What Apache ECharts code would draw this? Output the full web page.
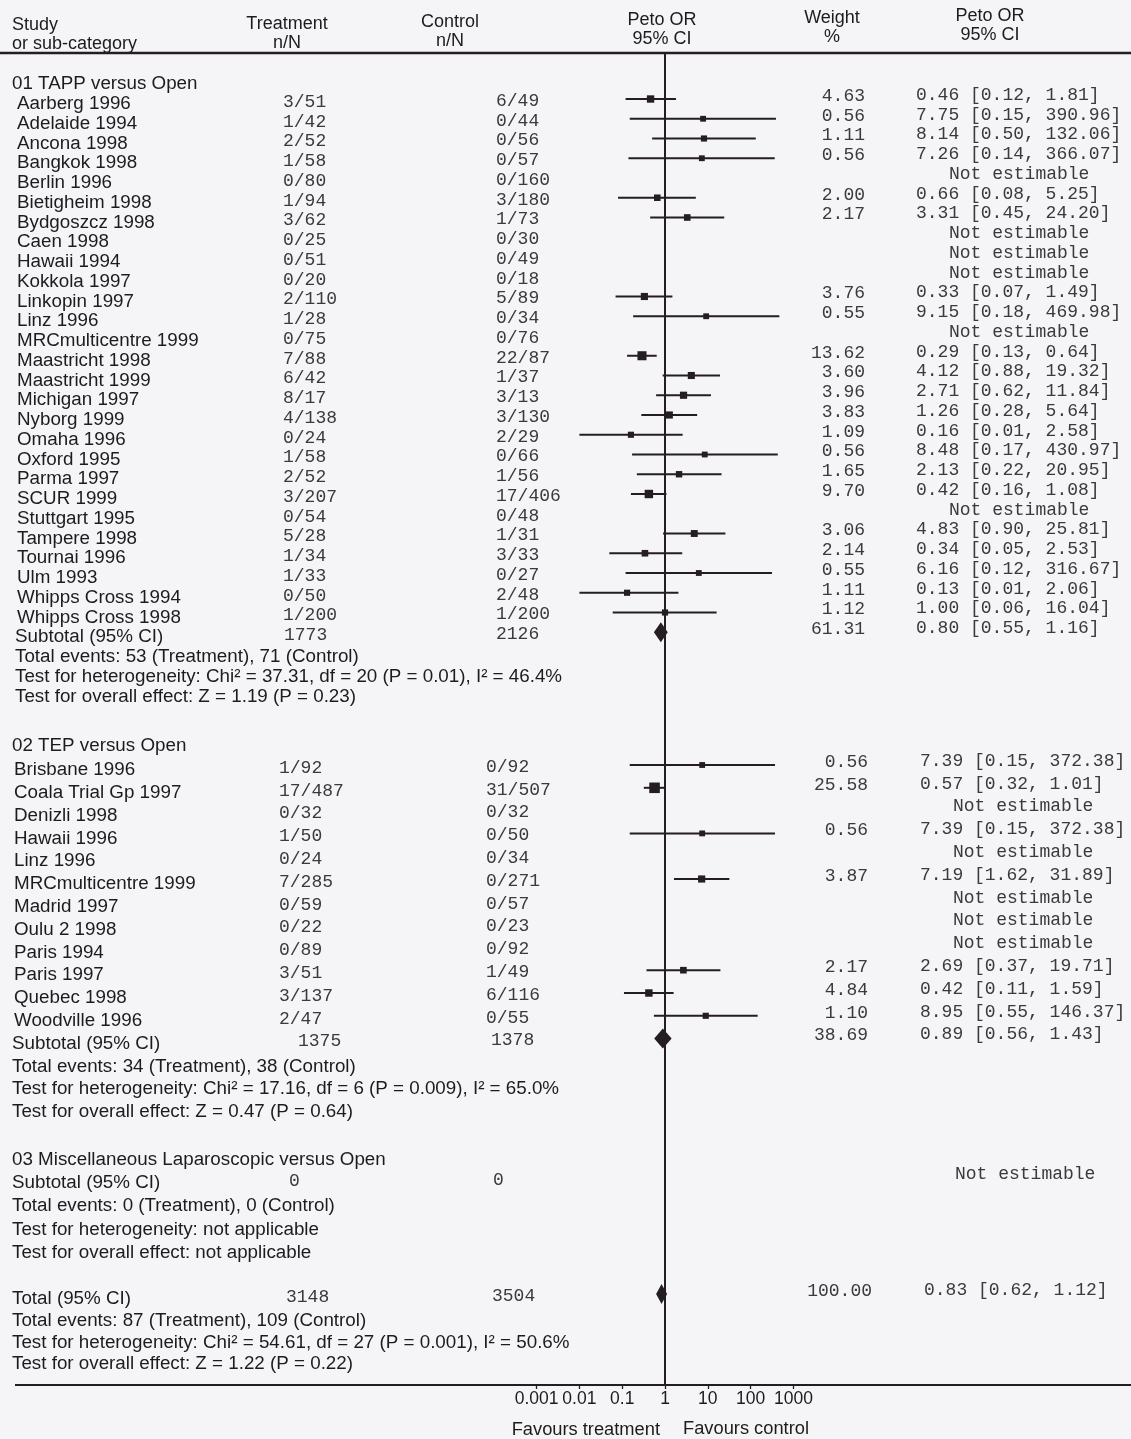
<!DOCTYPE html>
<html><head><meta charset="utf-8">
<script src="https://cdn.jsdelivr.net/npm/echarts@6/dist/echarts.min.js"></script>
<style>html,body{margin:0;padding:0;background:#f5f5f7}#c{width:1131px;height:1439px}</style>
</head><body><div id="c"></div>
<script>
// ---------------- DATA ----------------
const tickValues = [0.001, 0.01, 0.1, 1, 10, 100, 1000];
const tickLabels = ['0.001', '0.01', '0.1', '1', '10', '100', '1000'];
const headerTop = ['Study', 'Treatment', 'Control', 'Peto OR', 'Weight', 'Peto OR'];
const headerBottom = ['or sub-category', 'n/N', 'n/N', '95% CI', '%', '95% CI'];
const sectionTitles = ['01 TAPP versus Open', '02 TEP versus Open', '03 Miscellaneous Laparoscopic versus Open'];

const names1 = ['Aarberg 1996','Adelaide 1994','Ancona 1998','Bangkok 1998','Berlin 1996','Bietigheim 1998','Bydgoszcz 1998','Caen 1998','Hawaii 1994','Kokkola 1997','Linkopin 1997','Linz 1996','MRCmulticentre 1999','Maastricht 1998','Maastricht 1999','Michigan 1997','Nyborg 1999','Omaha 1996','Oxford 1995','Parma 1997','SCUR 1999','Stuttgart 1995','Tampere 1998','Tournai 1996','Ulm 1993','Whipps Cross 1994','Whipps Cross 1998'];
const treat1 = ['3/51','1/42','2/52','1/58','0/80','1/94','3/62','0/25','0/51','0/20','2/110','1/28','0/75','7/88','6/42','8/17','4/138','0/24','1/58','2/52','3/207','0/54','5/28','1/34','1/33','0/50','1/200'];
const ctrl1 = ['6/49','0/44','0/56','0/57','0/160','3/180','1/73','0/30','0/49','0/18','5/89','0/34','0/76','22/87','1/37','3/13','3/130','2/29','0/66','1/56','17/406','0/48','1/31','3/33','0/27','2/48','1/200'];
const weight1 = [4.63,0.56,1.11,0.56,null,2.00,2.17,null,null,null,3.76,0.55,null,13.62,3.60,3.96,3.83,1.09,0.56,1.65,9.70,null,3.06,2.14,0.55,1.11,1.12];
const or1 = [0.46,7.75,8.14,7.26,null,0.66,3.31,null,null,null,0.33,9.15,null,0.29,4.12,2.71,1.26,0.16,8.48,2.13,0.42,null,4.83,0.34,6.16,0.13,1.00];
const lo1 = [0.12,0.15,0.50,0.14,null,0.08,0.45,null,null,null,0.07,0.18,null,0.13,0.88,0.62,0.28,0.01,0.17,0.22,0.16,null,0.90,0.05,0.12,0.01,0.06];
const hi1 = [1.81,390.96,132.06,366.07,null,5.25,24.20,null,null,null,1.49,469.98,null,0.64,19.32,11.84,5.64,2.58,430.97,20.95,1.08,null,25.81,2.53,316.67,2.06,16.04];

const names2 = ['Brisbane 1996','Coala Trial Gp 1997','Denizli 1998','Hawaii 1996','Linz 1996','MRCmulticentre 1999','Madrid 1997','Oulu 2 1998','Paris 1994','Paris 1997','Quebec 1998','Woodville 1996'];
const treat2 = ['1/92','17/487','0/32','1/50','0/24','7/285','0/59','0/22','0/89','3/51','3/137','2/47'];
const ctrl2 = ['0/92','31/507','0/32','0/50','0/34','0/271','0/57','0/23','0/92','1/49','6/116','0/55'];
const weight2 = [0.56,25.58,null,0.56,null,3.87,null,null,null,2.17,4.84,1.10];
const or2 = [7.39,0.57,null,7.39,null,7.19,null,null,null,2.69,0.42,8.95];
const lo2 = [0.15,0.32,null,0.15,null,1.62,null,null,null,0.37,0.11,0.55];
const hi2 = [372.38,1.01,null,372.38,null,31.89,null,null,null,19.71,1.59,146.37];

const subLabel = 'Subtotal (95% CI)';
const subT = ['1773', '1375', '0'];
const subC = ['2126', '1378', '0'];
const subWeight = [61.31, 38.69, null];
const subOR = [0.80, 0.89, null];
const subLo = [0.55, 0.56, null];
const subHi = [1.16, 1.43, null];
const subStats = [
  ['Total events: 53 (Treatment), 71 (Control)', 'Test for heterogeneity: Chi\u00b2 = 37.31, df = 20 (P = 0.01), I\u00b2 = 46.4%', 'Test for overall effect: Z = 1.19 (P = 0.23)'],
  ['Total events: 34 (Treatment), 38 (Control)', 'Test for heterogeneity: Chi\u00b2 = 17.16, df = 6 (P = 0.009), I\u00b2 = 65.0%', 'Test for overall effect: Z = 0.47 (P = 0.64)'],
  ['Total events: 0 (Treatment), 0 (Control)', 'Test for heterogeneity: not applicable', 'Test for overall effect: not applicable']
];
const totLabel = 'Total (95% CI)';
const totT = '3148', totC = '3504';
const totWeight = 100.00, totOR = 0.83, totLo = 0.62, totHi = 1.12;
const totStats = ['Total events: 87 (Treatment), 109 (Control)', 'Test for heterogeneity: Chi\u00b2 = 54.61, df = 27 (P = 0.001), I\u00b2 = 50.6%', 'Test for overall effect: Z = 1.22 (P = 0.22)'];
const notEst = 'Not estimable';
const favLeft = 'Favours treatment', favRight = 'Favours control';

// ---------------- LAYOUT ----------------
const W = 1131, H = 1439;
const INK = '#241d21', TXT = '#1c1c1c', MTXT = '#3a3a3a';
const SANS = '"Liberation Sans", Arial, sans-serif';
const MONO = '"Liberation Mono", "Courier New", monospace';
const BODY = 18.8, HEAD = 18, MSIZE = 18;
const xOne = 665, decade = 42.8;
const gridLeft = xOne - 3 * decade, gridWidth = 6 * decade;
const topLineY = 54, botLineY = 1385;
const OFF = { name: 5, treat: 3, ctrl: 2, weight: -3, ci: -4 };
const SEC = [
  { hy: 79, y0: 99, dy: 19.75, nameX: 17, restX: 15, hdrX: 12, tX: 283, cX: 496, wX: 865, ciX: 916, subTX: 284, subCX: 496 },
  { hy: 741, y0: 765, dy: 22.8, nameX: 14, restX: 12, hdrX: 12, tX: 279, cX: 486, wX: 868, ciX: 920, subTX: 298, subCX: 491 },
  { hy: 1155, y0: 1178, dy: 23.2, nameX: 12, restX: 12, hdrX: 12, tX: 289, cX: 493, wX: 868, ciX: 922, subTX: 289, subCX: 493 }
];
const TOT = { y: 1294, dy: 21.7, x: 12, tX: 286, cX: 492, wX: 872, ciX: 924 };
const studies = [
  { names: names1, treat: treat1, ctrl: ctrl1, weight: weight1, or: or1, lo: lo1, hi: hi1 },
  { names: names2, treat: treat2, ctrl: ctrl2, weight: weight2, or: or2, lo: lo2, hi: hi2 },
  { names: [], treat: [], ctrl: [], weight: [], or: [], lo: [], hi: [] }
];

const G = [];
function txt(s, x, y, opt) {
  G.push({ type: 'text', x: x, y: y, silent: true,
    style: Object.assign({ text: s, fill: TXT, fontSize: BODY, fontFamily: SANS, align: 'left', verticalAlign: 'middle' }, opt || {}) });
}
function mono(s, x, y, opt) { txt(s, x, y, Object.assign({ fontFamily: MONO, fill: MTXT, fontSize: MSIZE }, opt || {})); }
const fmtCI = (o, l, h) => o.toFixed(2) + ' [' + l.toFixed(2) + ', ' + h.toFixed(2) + ']';

// header
const hdrX = [12, 287, 450, 662, 832, 990];
const hdrY1 = [25, 24, 22, 20, 18, 16];
headerTop.forEach((s, i) => {
  txt(s, hdrX[i], hdrY1[i], { fontSize: HEAD, align: i === 0 ? 'left' : 'center' });
  txt(headerBottom[i], hdrX[i], hdrY1[i] + 19.5, { fontSize: HEAD, align: i === 0 ? 'left' : 'center' });
});

const whiskers = [], squares = [], diamonds = [];
SEC.forEach((sec, k) => {
  const st = studies[k];
  txt(sectionTitles[k], sec.hdrX, sec.hy + OFF.name);
  st.names.forEach((n, i) => {
    const y = sec.y0 + i * sec.dy;
    txt(n, sec.nameX, y + OFF.name);
    mono(st.treat[i], sec.tX, y + OFF.treat);
    mono(st.ctrl[i], sec.cX, y + OFF.ctrl);
    if (st.or[i] != null) {
      mono(st.weight[i].toFixed(2), sec.wX, y + OFF.weight, { align: 'right' });
      mono(fmtCI(st.or[i], st.lo[i], st.hi[i]), sec.ciX, y + OFF.ci);
      whiskers.push([st.lo[i], st.hi[i], y]);
      squares.push([st.or[i], y, st.weight[i]]);
    } else {
      mono(notEst, sec.ciX + 33, y + OFF.ci);
    }
  });
  const sy = sec.y0 + st.names.length * sec.dy;
  txt(subLabel, sec.restX, sy + OFF.name);
  mono(subT[k], sec.subTX, sy + OFF.treat);
  mono(subC[k], sec.subCX, sy + OFF.ctrl);
  if (subOR[k] != null) {
    mono(subWeight[k].toFixed(2), sec.wX, sy + OFF.weight, { align: 'right' });
    mono(fmtCI(subOR[k], subLo[k], subHi[k]), sec.ciX, sy + OFF.ci);
    diamonds.push([subLo[k], subOR[k], subHi[k], sy]);
  } else {
    mono(notEst, sec.ciX + 33, sy + OFF.ci);
  }
  subStats[k].forEach((s, j) => txt(s, sec.restX, sy + (j + 1) * sec.dy + OFF.name));
});

// overall total
txt(totLabel, TOT.x, TOT.y + OFF.name);
mono(totT, TOT.tX, TOT.y + OFF.treat);
mono(totC, TOT.cX, TOT.y + OFF.ctrl);
mono(totWeight.toFixed(2), TOT.wX, TOT.y + OFF.weight, { align: 'right' });
mono(fmtCI(totOR, totLo, totHi), TOT.ciX, TOT.y + OFF.ci);
diamonds.push([totLo, totOR, totHi, TOT.y]);
totStats.forEach((s, j) => txt(s, TOT.x, TOT.y + (j + 1) * TOT.dy + OFF.name));

// rules
G.push({ type: 'line', silent: true, shape: { x1: 0, y1: topLineY - 1, x2: W, y2: topLineY - 1 }, style: { stroke: INK, lineWidth: 2.5 } });
G.push({ type: 'line', silent: true, shape: { x1: 15, y1: botLineY, x2: W, y2: botLineY }, style: { stroke: INK, lineWidth: 1.8 } });
txt(favLeft, xOne - 5, 1430, { align: 'right', fontSize: 18.3 });
txt(favRight, xOne + 18, 1429, { align: 'left', fontSize: 18.3 });

const chart = echarts.init(document.getElementById('c'), null, { renderer: 'canvas' });
chart.setOption({
  backgroundColor: '#f5f5f7',
  animation: false,
  grid: { left: gridLeft, top: topLineY, width: gridWidth, height: botLineY - topLineY, containLabel: false },
  xAxis: {
    type: 'log', logBase: 10, min: tickValues[0], max: tickValues[tickValues.length - 1],
    axisLine: { show: true, lineStyle: { color: INK, width: 1.8 } },
    axisTick: { show: true, length: 4, lineStyle: { color: INK, width: 1.3 } },
    axisLabel: { color: TXT, fontSize: 17.5, fontFamily: SANS, margin: 5,
      formatter: v => { const i = tickValues.findIndex(t => Math.abs(Math.log10(t) - Math.log10(v)) < 1e-6); return i >= 0 ? tickLabels[i] : ''; } },
    splitLine: { show: false }
  },
  yAxis: { type: 'value', min: topLineY, max: botLineY, inverse: true, show: false },
  series: [
    {
      type: 'custom', data: whiskers, encode: { x: [0, 1], y: 2 }, z: 2, silent: true,
      renderItem: (p, api) => {
        const a = api.coord([api.value(0), api.value(2)]);
        const b = api.coord([api.value(1), api.value(2)]);
        return { type: 'line', shape: { x1: a[0], y1: a[1], x2: b[0], y2: b[1] }, style: { stroke: INK, lineWidth: 2 } };
      }
    },
    {
      type: 'scatter', data: squares, symbol: 'rect', z: 3, silent: true,
      symbolSize: v => 5 + 1.1 * Math.sqrt(v[2]),
      itemStyle: { color: INK, opacity: 1 },
      markLine: { silent: true, symbol: 'none', label: { show: false },
        lineStyle: { color: INK, width: 2, type: 'solid' }, data: [{ xAxis: 1 }] }
    },
    {
      type: 'custom', data: diamonds, encode: { x: [0, 1, 2], y: 3 }, z: 4, silent: true,
      renderItem: (p, api) => {
        const y = api.value(3);
        const l = api.coord([api.value(0), y]), m = api.coord([api.value(1), y]), r = api.coord([api.value(2), y]);
        const h = 10;
        return { type: 'polygon', shape: { points: [[l[0], l[1]], [m[0], m[1] - h], [r[0], r[1]], [m[0], m[1] + h]] }, style: { fill: INK } };
      }
    }
  ],
  graphic: { elements: G }
});
</script>
</body></html>
